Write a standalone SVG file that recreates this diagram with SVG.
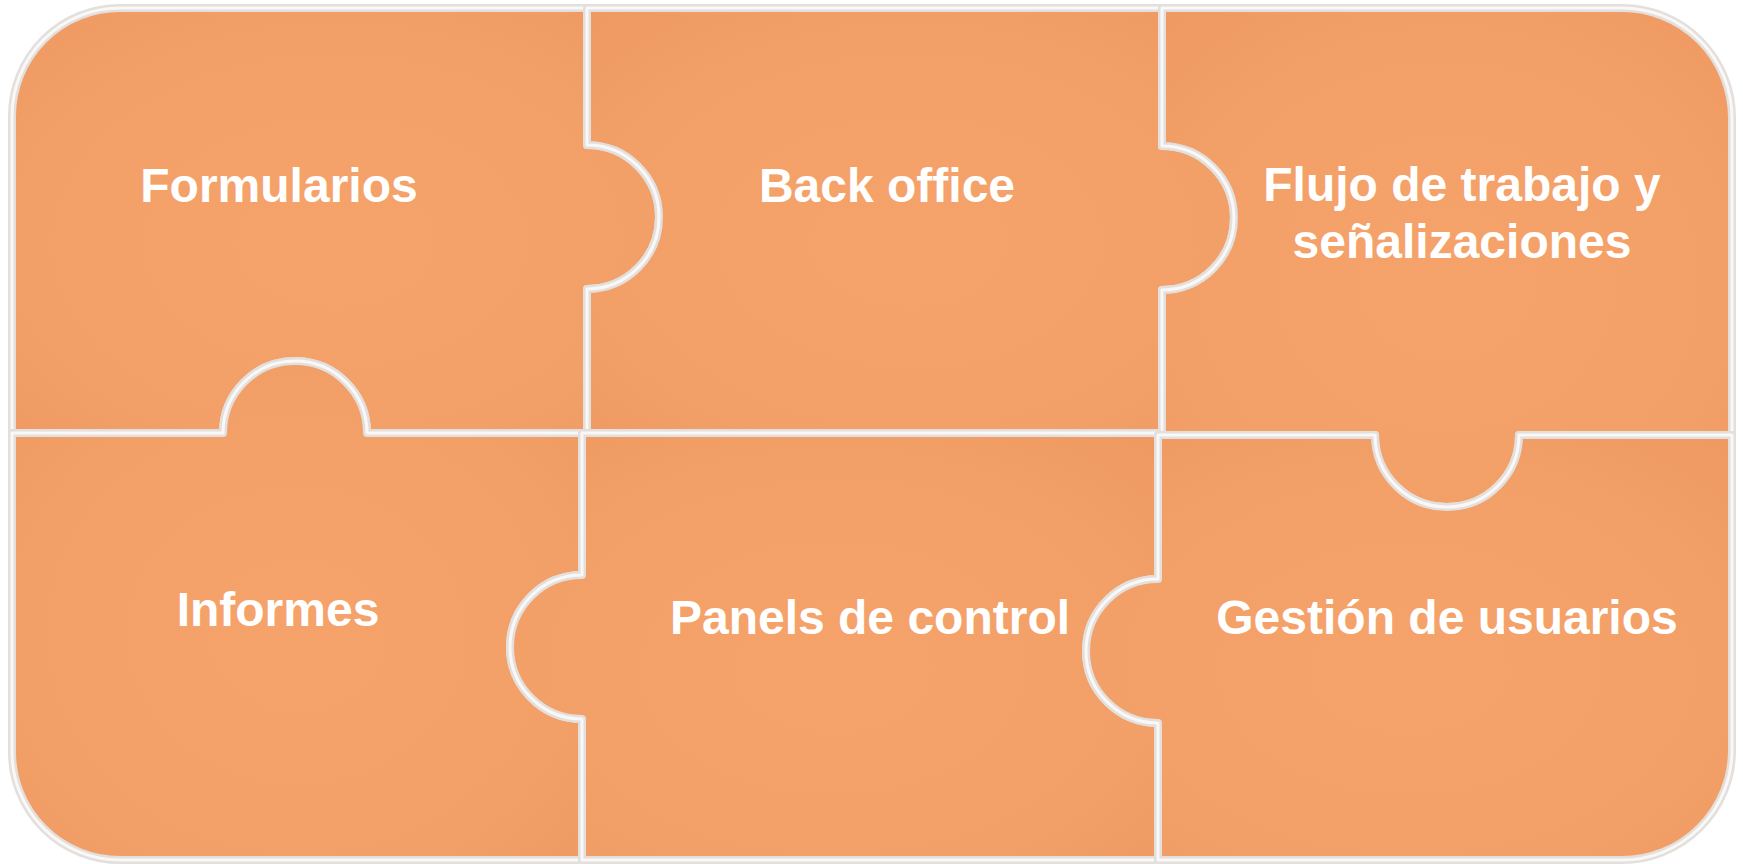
<svg xmlns="http://www.w3.org/2000/svg" xmlns:xlink="http://www.w3.org/1999/xlink" width="1743" height="864" viewBox="0 0 1743 864">
<style>
.piece{fill:url(#pg);stroke:#E3DFDC;stroke-width:8;stroke-linejoin:round}
.hl{fill:none;stroke:#F9F8F7;stroke-width:3;stroke-linejoin:round}
.lbl{font-family:"Liberation Sans",Arial,sans-serif;font-weight:bold;font-size:48px;fill:#FFFFFF;text-anchor:middle}
</style>
<defs>
<radialGradient id="pg" cx="0.5" cy="0.55" r="0.7">
<stop offset="0" stop-color="#F5A36B"/>
<stop offset="0.7" stop-color="#F3A068"/>
<stop offset="1" stop-color="#EE9A62"/>
</radialGradient>
<path id="p1" d="M12,116 A108,108 0 0 1 120,8 L587,8 L587,145 A72,72 0 0 1 587,289 L587,433 L367,433 A72,72 0 0 0 223,433 L12,433 Z"/>
<path id="p2" d="M587,8 L1162,8 L1162,146 A72,72 0 0 1 1162,290 L1162,433 L587,433 L587,289 A72,72 0 0 0 587,145 Z"/>
<path id="p3" d="M1162,8 L1622,8 A110,110 0 0 1 1732,118 L1732,435 L1519,435 A72,72 0 0 1 1375,435 L1162,435 L1162,290 A72,72 0 0 0 1162,146 Z"/>
<path id="p4" d="M12,433 L223,433 A72,72 0 0 1 367,433 L582,433 L582,575 A72,72 0 0 0 582,719 L582,860 L120,860 A108,108 0 0 1 12,752 Z"/>
<path id="p5" d="M582,433 L1158,433 L1158,579 A72,72 0 0 0 1158,723 L1158,860 L582,860 L582,719 A72,72 0 0 1 582,575 Z"/>
<path id="p6" d="M1158,435 L1375,435 A72,72 0 0 0 1519,435 L1732,435 L1732,750 A110,110 0 0 1 1622,860 L1158,860 L1158,723 A72,72 0 0 1 1158,579 Z"/>
</defs>
<rect width="1743" height="864" fill="#FFFFFF"/>
<g id="node-formularios">
<use xlink:href="#p1" class="piece"/><use xlink:href="#p1" class="hl"/>
</g>
<g id="node-back-office">
<use xlink:href="#p2" class="piece"/><use xlink:href="#p2" class="hl"/>
</g>
<g id="node-flujo">
<use xlink:href="#p3" class="piece"/><use xlink:href="#p3" class="hl"/>
</g>
<g id="node-informes">
<use xlink:href="#p4" class="piece"/><use xlink:href="#p4" class="hl"/>
</g>
<g id="node-panels">
<use xlink:href="#p5" class="piece"/><use xlink:href="#p5" class="hl"/>
</g>
<g id="node-gestion">
<use xlink:href="#p6" class="piece"/><use xlink:href="#p6" class="hl"/>
</g>
<g id="labels">
<text class="lbl" x="279" y="202">Formularios</text>
<text class="lbl" x="887" y="202">Back office</text>
<text class="lbl" x="1462" y="201">Flujo de trabajo y</text>
<text class="lbl" x="1462" y="258">señalizaciones</text>
<text class="lbl" x="278" y="626">Informes</text>
<text class="lbl" x="870" y="634">Panels de control</text>
<text class="lbl" x="1447" y="634">Gestión de usuarios</text>
</g>
</svg>
